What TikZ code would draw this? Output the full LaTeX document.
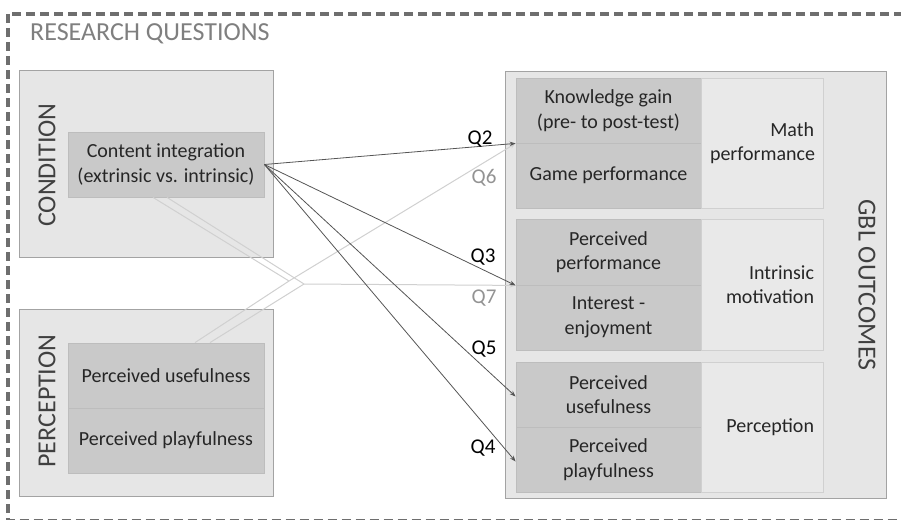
\documentclass[tikz,border=0pt]{standalone}
\usepackage{fontspec}
\setmainfont{Carlito}
\usetikzlibrary{arrows.meta}

\definecolor{framegray}{HTML}{6E6E6E}
\definecolor{titlegray}{HTML}{7F7F7F}
\definecolor{boxgray}{HTML}{E6E6E6}
\definecolor{boxedge}{HTML}{A3A3A3}
\definecolor{cellgray}{HTML}{C9C9C9}
\definecolor{celledge}{HTML}{BDBDBD}
\definecolor{sidegray}{HTML}{E9E9E9}
\definecolor{sideedge}{HTML}{D0D0D0}
\definecolor{textgray}{HTML}{262626}
\definecolor{headgray}{HTML}{404040}
\definecolor{linkdark}{HTML}{555555}
\definecolor{linklight}{HTML}{D0D0D0}

\begin{document}
\begin{tikzpicture}[x=1pt, y=-1pt, >={Stealth[length=6pt,width=4.5pt]},
        every node/.style={font=\fontsize{20}{24.5}\selectfont, text=textgray, inner sep=0pt},
        group/.style={draw=boxedge, fill=boxgray, line width=1pt},
        cell/.style={draw=celledge, fill=cellgray, line width=0.8pt, align=center,
                     minimum height=65pt},
        lcell/.style={cell, minimum width=196pt},
        rcell/.style={cell, minimum width=185pt},
        side/.style={draw=sideedge, fill=sidegray, line width=0.8pt, align=right,
                     text width=104pt, inner xsep=9pt, minimum height=130pt},
        heading/.style={font=\fontsize{26}{30}\selectfont, text=headgray},
        qdark/.style={text=black, font=\fontsize{21}{24}\selectfont},
        qlight/.style={text=gray!85, font=\fontsize{21}{24}\selectfont},
        dlink/.style={draw=linkdark, line width=0.8pt},
        llink/.style={draw=linklight, line width=1pt}]
        \useasboundingbox (0,0) rectangle (901,519);
        \clip (0,0) rectangle (901,519);

        % dashed frame
        \draw [framegray, line width=3.4pt, dash pattern=on 9pt off 5pt] (8,14) rectangle (915,520.5);
        \node[anchor=base west, text=titlegray, font=\fontsize{26}{30}\selectfont] (title) at (30,41) {RESEARCH QUESTIONS};

        % left side groups
        \draw [group] (19,70) rectangle (273,257);
        \draw [group] (19,309) rectangle (273,496);
        \node[heading, rotate=90] (cond) at (47,165) {CONDITION};
        \node[heading, rotate=90] (percL) at (47,401) {PERCEPTION};

        \node[lcell] (ci) at (166,164.5) {Content integration\\(extrinsic vs. intrinsic)};
        \node[lcell] (pu) at (166,375.5) {Perceived usefulness};
        \node[lcell] (py) at (166,440.5) {Perceived playfulness};

        % outcome groups
        \draw [group] (505,71) rectangle (886,498);
        \node[heading, rotate=-90] (gbl) at (867,285) {GBL OUTCOMES};

        \node[rcell] (kg) at (608.5,110.5) {Knowledge gain\\(pre- to post-test)};
        \node[rcell] (gp) at (608.5,175.5) {Game performance};
        \node[side] (math) at (762,143) {Math\\performance};

        \node[rcell, minimum height=66pt] (pp) at (608.5,252) {Perceived\\performance};
        \node[rcell] (ie) at (608.5,317.5) {Interest -\\enjoyment};
        \node[side, minimum height=131pt] (intr) at (762,284.5) {Intrinsic\\motivation};

        \node[rcell] (pu2) at (608.5,394.5) {Perceived\\usefulness};
        \node[rcell] (py2) at (608.5,459.5) {Perceived\\playfulness};
        \node[side] (percR) at (762,427) {Perception};

        % interaction paths (Q6, Q7)
        \coordinate (j6) at (289,281);
        \coordinate (j7) at (304,284);
        \draw [llink] ([xshift=-13pt]ci.south) -- (j6);
        \draw [llink] ([xshift=29pt]pu.north) -- (j6);
        \draw [llink, ->] (j6) -- (kg.south west);
        \draw [llink] ([xshift=1pt]ci.south) -- (j7);
        \draw [llink] ([xshift=44pt]pu.north) -- (j7);
        \draw [llink, ->] (j7) -- (pp.south west);

        % main paths (Q2 - Q5)
        \draw [dlink, ->] (ci.east) -- (kg.south west);
        \draw [dlink, ->] (ci.east) -- (pp.south west);
        \draw [dlink, ->] (ci.east) -- ([yshift=-2pt]pu2.west);
        \draw [dlink, ->] (ci.east) -- ([yshift=-2pt]py2.west);

        \node[qdark] (q2) at (480,139) {Q2};
        \node[qlight] (q6) at (484,178) {Q6};
        \node[qdark] (q3) at (483,257) {Q3};
        \node[qlight] (q7) at (484,298) {Q7};
        \node[qdark] (q5) at (484,349) {Q5};
        \node[qdark] (q4) at (483,448) {Q4};

	\end{tikzpicture}
\end{document}
